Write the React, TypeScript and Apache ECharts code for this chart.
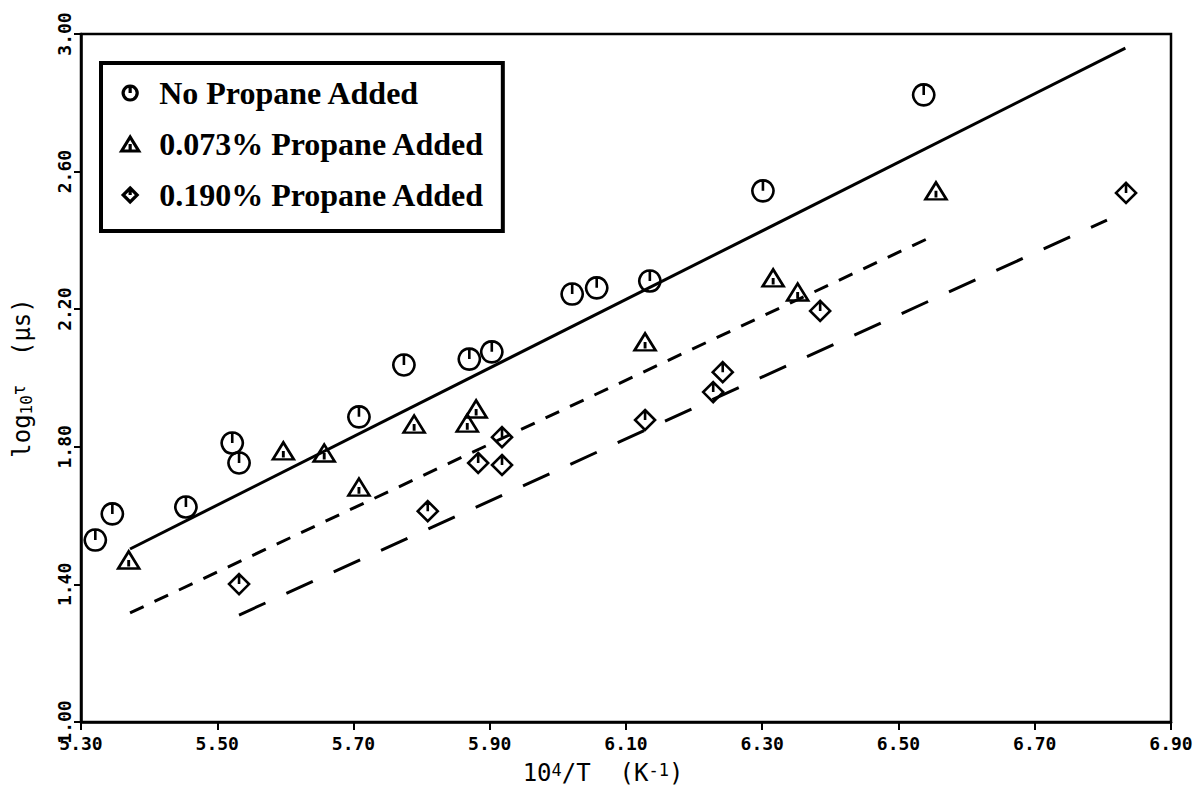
import { useEffect, useRef } from "react";
import * as echarts from "echarts";

// Ignition delay data: [10^4/T (K^-1), log10 tau (µs)]
const noPropane: [number, number][] = [
  [5.321, 1.529], [5.346, 1.605], [5.454, 1.625], [5.522, 1.811], [5.532, 1.753],
  [5.708, 1.887], [5.774, 2.038], [5.87, 2.055], [5.903, 2.076], [6.021, 2.244],
  [6.057, 2.262], [6.135, 2.282], [6.301, 2.544], [6.537, 2.823],
];
const propane073: [number, number][] = [
  [5.37, 1.471], [5.597, 1.788], [5.657, 1.782], [5.708, 1.683], [5.789, 1.866],
  [5.867, 1.869], [5.88, 1.91], [6.128, 2.105], [6.316, 2.291], [6.352, 2.25],
  [6.555, 2.544],
];
const propane190: [number, number][] = [
  [5.532, 1.401], [5.809, 1.613], [5.883, 1.753], [5.918, 1.828], [5.918, 1.747],
  [6.128, 1.878], [6.228, 1.959], [6.242, 2.017], [6.385, 2.195], [6.834, 2.538],
];

// Least-squares fit lines (end points)
const fitNoPropane: [number, number][] = [[5.372, 1.503], [6.833, 2.959]];
const fit073: [number, number][] = [[5.372, 1.317], [6.548, 2.41]];
const fit190: [number, number][] = [[5.532, 1.311], [6.806, 2.459]];

const seriesNames = ["No Propane Added", "0.073% Propane Added", "0.190% Propane Added"];

// Axis ranges
const xRange = [5.3, 6.9];
const xStep = 0.2;
const yRange = [1.0, 3.0];
const yStep = 0.4;

// Plotter-style marker outlines, each with its centre tick
const circleSymbol = "path://M10 0A10 10 0 1 1 9.99 0ZM10 0L10 10";
const triangleSymbol = "path://M0 18L11 0L22 18ZM11 9L11 16";
const diamondSymbol = "path://M10 0L20 10L10 20L0 10ZM10 0L10 10";

const plotFont = "DejaVu Sans Mono";
const legendFont = "Liberation Serif";

export default function App() {
  const ref = useRef<HTMLDivElement>(null);

  useEffect(() => {
    if (!ref.current) return;
    const chart = echarts.init(ref.current, null, { renderer: "svg" });

    const markerStyle = {
      color: "rgba(255,255,255,0)",
      borderColor: "#000",
      borderWidth: 2.6,
      opacity: 1,
    };

    const fitLine = (data: [number, number][], dash: number[] | "solid") => ({
      type: "line" as const,
      data,
      symbol: "none",
      silent: true,
      z: 1,
      lineStyle: { color: "#000", width: 3, type: dash },
    });

    chart.setOption({
      animation: false,
      backgroundColor: "#fff",
      grid: {
        left: 81,
        top: 34,
        right: 30,
        bottom: 72,
        show: true,
        borderColor: "#000",
        borderWidth: 2.5,
        backgroundColor: "transparent",
      },
      legend: {
        orient: "vertical",
        left: 101,
        top: 63,
        data: seriesNames,
        selectedMode: false,
        padding: [13, 18, 19, 19],
        itemGap: 17,
        itemWidth: 48,
        itemHeight: 14,
        borderColor: "#000",
        borderWidth: 4,
        backgroundColor: "#fff",
        itemStyle: { borderWidth: 3.2, borderColor: "#000", opacity: 1 },
        textStyle: {
          fontFamily: legendFont,
          fontWeight: "bold",
          fontSize: 32,
          lineHeight: 34,
          color: "#000",
        },
      },
      xAxis: {
        type: "value",
        min: xRange[0],
        max: xRange[1],
        interval: xStep,
        name: "10{sup|4}/T  (K{sup|-1})",
        nameLocation: "middle",
        nameGap: 39,
        nameTextStyle: {
          fontFamily: plotFont,
          fontSize: 24,
          color: "#000",
          padding: [0, 46, 0, 0],
          rich: {
            sup: { fontFamily: plotFont, fontSize: 17, color: "#000", verticalAlign: "top" },
          },
        },
        axisLine: { show: true, lineStyle: { color: "#000", width: 2.5 } },
        axisTick: { show: true, length: 8, lineStyle: { color: "#000", width: 2 } },
        axisLabel: {
          formatter: (v: number) => v.toFixed(2),
          fontFamily: plotFont,
          fontWeight: "bold",
          fontSize: 18,
          color: "#000",
          margin: 12,
        },
        splitLine: { show: false },
      },
      yAxis: {
        type: "value",
        min: yRange[0],
        max: yRange[1],
        interval: yStep,
        name: "log{sub|10}{tau|τ}  (μs)",
        nameLocation: "middle",
        nameRotate: 90,
        nameGap: 47,
        nameTextStyle: {
          fontFamily: plotFont,
          fontSize: 24,
          color: "#000",
          rich: {
            sub: { fontFamily: plotFont, fontSize: 16, color: "#000", verticalAlign: "bottom" },
            tau: { fontFamily: plotFont, fontSize: 17, color: "#000", verticalAlign: "top" },
          },
        },
        axisLine: { show: true, lineStyle: { color: "#000", width: 2.5 } },
        axisTick: { show: true, length: 7, lineStyle: { color: "#000", width: 2 } },
        axisLabel: {
          rotate: 90,
          formatter: (v: number) => v.toFixed(2),
          fontFamily: plotFont,
          fontWeight: "bold",
          fontSize: 18,
          color: "#000",
          margin: 8,
        },
        splitLine: { show: false },
      },
      series: [
        fitLine(fitNoPropane, "solid"),
        fitLine(fit073, [15, 12]),
        fitLine(fit190, [29, 23]),
        {
          name: seriesNames[0],
          type: "scatter",
          data: noPropane,
          symbol: circleSymbol,
          symbolSize: [21, 21],
          z: 3,
          itemStyle: markerStyle,
        },
        {
          name: seriesNames[1],
          type: "scatter",
          data: propane073,
          symbol: triangleSymbol,
          symbolSize: [21, 17],
          z: 3,
          itemStyle: markerStyle,
        },
        {
          name: seriesNames[2],
          type: "scatter",
          data: propane190,
          symbol: diamondSymbol,
          symbolSize: [20, 20],
          z: 3,
          itemStyle: markerStyle,
        },
      ],
    });

    return () => chart.dispose();
  }, []);

  return (
    <div
      ref={ref}
      style={{ position: "absolute", left: 0, top: 0, width: 1201, height: 794, background: "#fff" }}
    />
  );
}
